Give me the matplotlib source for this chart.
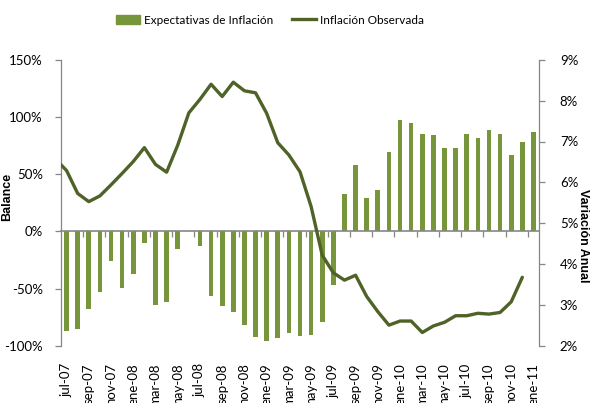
import numpy as np
import matplotlib as mpl
import matplotlib.pyplot as plt
from matplotlib.patches import Patch
from matplotlib.lines import Line2D

mpl.rcParams.update({
    "font.family": ["Lato", "DejaVu Sans"], "font.size": 9,
    "axes.linewidth": 0.9,
})
AXIS = "#868686"
BAR = "#77963b"
LINE = "#4f6228"

# monthly categories jul-07 .. ene-11
mes = ["ene", "feb", "mar", "abr", "may", "jun",
       "jul", "ago", "sep", "oct", "nov", "dic"]
meses = [f"{mes[m]}-{y:02d}" for y in range(7, 12) for m in range(12)][6:6 + 43]

# balance of inflation expectations (%)
expectativas = [-87, -85, -68, -53, -26, -49, -37, -10, -64, -62,
                -15, 0, -13, -56, -65, -70, -82, -92, -96, -93,
                -89, -91, -90, -79, -47, 33, 58, 29, 36, 69,
                97, 95, 85, 84, 73, 73, 85, 82, 89, 85,
                67, 78, 87]

# observed inflation, annual change (%), jun-07 .. dic-10
inflacion = [6.57,
             6.29, 5.73, 5.53, 5.67, 5.94, 6.22,
             6.51, 6.85, 6.44, 6.25, 6.91, 7.70,
             8.03, 8.40, 8.10, 8.45, 8.24, 8.19,
             7.69, 6.97, 6.67, 6.26, 5.41, 4.22,
             3.79, 3.61, 3.73, 3.21, 2.84, 2.51,
             2.61, 2.61, 2.33, 2.49, 2.58, 2.74,
             2.74, 2.80, 2.78, 2.82, 3.08, 3.68]

x = np.arange(len(meses))
x_inf = np.arange(len(inflacion)) - 1

fig = plt.figure(figsize=(5.9, 4.03), dpi=100)
ax = fig.add_axes([61 / 590, 57 / 403, 478 / 590, 286.3 / 403])
ax.bar(x, expectativas, width=0.42, color=BAR, zorder=2)
ax.set_xlim(-0.5, len(meses) - 0.5)
ax.set_ylim(-100, 150)
ax.set_yticks(np.arange(-100, 151, 50))
ax.set_yticklabels([f"{v}%" for v in range(-100, 151, 50)])
ax.tick_params(axis="y", length=4, width=0.9, color=AXIS, pad=9, labelsize=9.5)
for s in ("top", "right"):
    ax.spines[s].set_visible(False)
ax.spines["left"].set_color(AXIS)
ax.spines["bottom"].set_position(("data", 0))
ax.spines["bottom"].set_color(AXIS)
ax.spines["bottom"].set_linewidth(1.2)
ax.set_xticks(np.arange(1.5, len(meses) - 1, 2))
ax.set_xticklabels([])
ax.tick_params(axis="x", length=4, width=0.9, color=AXIS)
ax.set_ylabel("Balance", fontweight="bold", family=["Liberation Sans"],
              fontsize=9)
ax.yaxis.set_label_coords(-0.1004, 0.521)

# month labels hang below the plot area
sec = ax.secondary_xaxis("bottom")
sec.set_xticks(x[::2])
sec.set_xticklabels(meses[::2], rotation=90, fontsize=9.5)
sec.tick_params(length=0, pad=12.5)
sec.spines["bottom"].set_visible(False)

ax2 = ax.twinx()
ax2.plot(x_inf, inflacion, color=LINE, lw=2.4, solid_joinstyle="round",
         solid_capstyle="round", zorder=3)
ax2.set_xlim(-0.5, len(meses) - 0.5)
ax2.set_ylim(2, 9)
ax2.set_yticks(np.arange(2, 10))
ax2.set_yticklabels([f"{v}%" for v in range(2, 10)])
ax2.tick_params(axis="y", length=4, width=0.9, color=AXIS, pad=11, labelsize=9.5)
for s in ("top", "left", "bottom"):
    ax2.spines[s].set_visible(False)
ax2.spines["right"].set_color(AXIS)
ax2.set_ylabel("Variación Anual", fontweight="bold", rotation=270,
               family=["Liberation Sans"], fontsize=9, va="center", ha="center")
ax2.yaxis.set_label_coords(1.092, 0.385)

handles = [Patch(color=BAR, label="Expectativas de Inflación"),
           Line2D([], [], color=LINE, lw=2.4, label="Inflación Observada")]
fig.legend(handles=handles, loc="center", bbox_to_anchor=(270 / 590, 1 - 20 / 403),
           ncol=2, frameon=False, prop={"size": 8.5},
           handlelength=2, handletextpad=0.35, columnspacing=1.6)

fig.savefig("out.png", dpi=100)
